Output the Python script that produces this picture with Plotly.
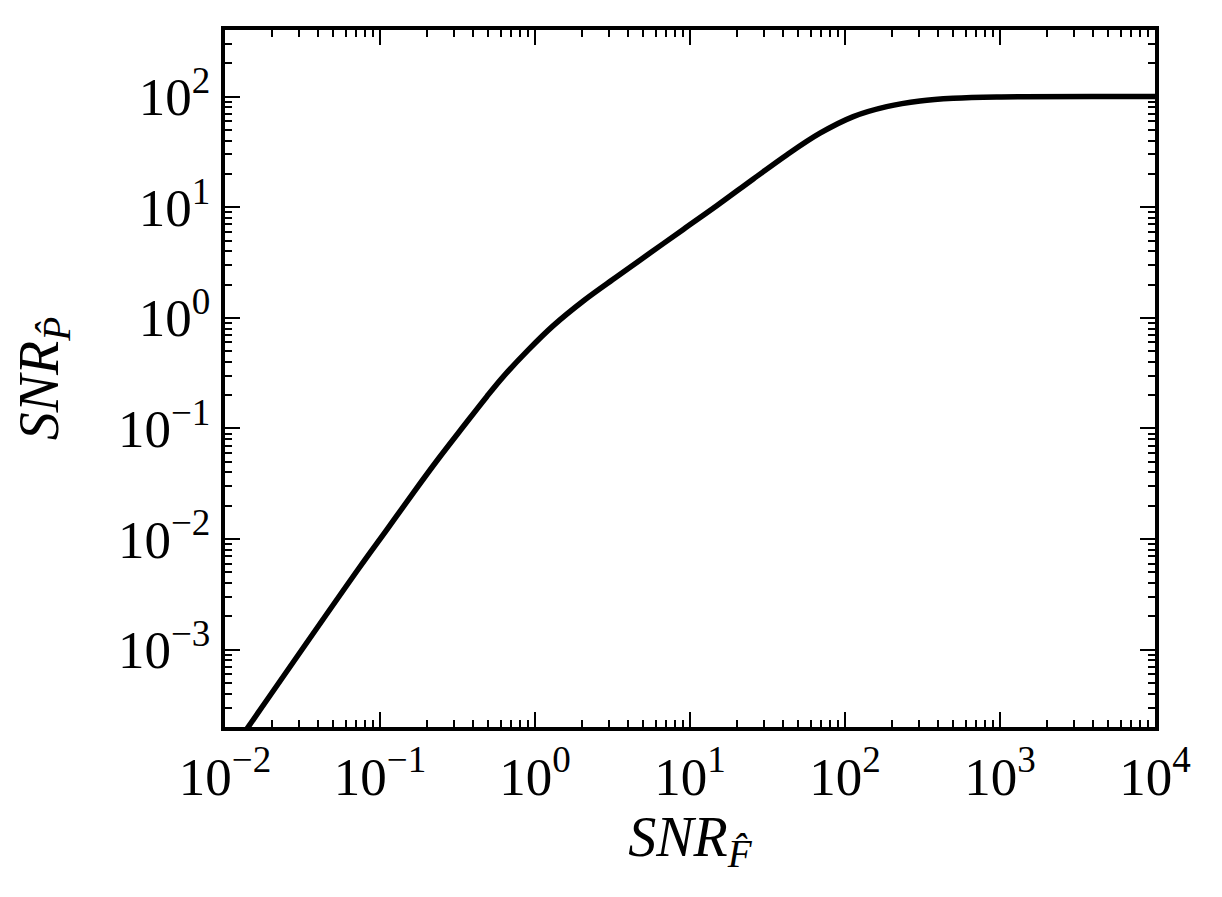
import plotly.graph_objects as go

# Data
snr_f = [0.012, 0.0735, 0.1105, 0.164, 0.2322, 0.3447, 0.4881, 0.6245, 0.9053,
         1.3126, 2.049, 3.366, 5.52, 9.05, 14.87, 25.62, 42.06, 68.98, 113.1,
         185.8, 304.8, 499.5, 952, 10000]
snr_p = [1.44e-4, 0.0055, 0.0121, 0.0262, 0.0508, 0.104, 0.1937, 0.294, 0.513,
         0.85, 1.42, 2.35, 3.85, 6.3, 10.3, 18.0, 29.71, 46.69, 65.96,
         81.2, 91.4, 96.7, 99.3, 100]

x_tickvals = [1e-2, 1e-1, 1e0, 1e1, 1e2, 1e3, 1e4]
x_ticktext = ["10<sup>\u22122</sup>", "10<sup>\u22121</sup>", "10<sup>0</sup>",
              "10<sup>1</sup>", "10<sup>2</sup>", "10<sup>3</sup>", "10<sup>4</sup>"]
y_tickvals = [1e-3, 1e-2, 1e-1, 1e0, 1e1, 1e2]
y_ticktext = ["10<sup>\u22123</sup>", "10<sup>\u22122</sup>", "10<sup>\u22121</sup>",
              "10<sup>0</sup>", "10<sup>1</sup>", "10<sup>2</sup>"]

x_minor = [m * 10.0 ** k for k in range(-2, 4) for m in range(2, 10)]
y_minor = [m * 10.0 ** k for k in range(-4, 3) for m in range(2, 10)]

FONT = "Liberation Serif"

fig = go.Figure()
fig.add_trace(go.Scatter(
    x=snr_f, y=snr_p, mode="lines",
    line=dict(color="black", width=5.5, shape="spline", smoothing=1.0),
    showlegend=False, hoverinfo="skip",
))

axis_common = dict(
    type="log",
    automargin=False,
    showgrid=False,
    zeroline=False,
    showline=True,
    linecolor="black",
    linewidth=4,
    mirror="ticks",
    ticks="inside",
    ticklen=15,
    tickwidth=2,
    tickcolor="black",
    tickmode="array",
    tickfont=dict(family=FONT, size=53, color="black"),
)

fig.update_xaxes(
    **axis_common,
    range=[-2, 4],
    tickvals=x_tickvals,
    ticktext=x_ticktext,
    minor=dict(tickmode="array", tickvals=x_minor, ticks="inside", ticklen=7,
               tickwidth=1.5, tickcolor="black", showgrid=False),
    title=dict(text="<i>SNR</i><sub><i>F\u0302</i></sub>",
               font=dict(family=FONT, size=56, color="black"), standoff=4),
)
fig.update_yaxes(
    **axis_common,
    range=[-3.699, 2.602],
    tickvals=y_tickvals,
    ticktext=y_ticktext,
    minor=dict(tickmode="array", tickvals=y_minor, ticks="inside", ticklen=7,
               tickwidth=1.5, tickcolor="black", showgrid=False),
    title=dict(text="<i>SNR</i><sub><i>P\u0302</i></sub>",
               font=dict(family=FONT, size=56, color="black"), standoff=44),
)

# page body has an 8px default margin; compensate so the plot area sits at
# x 225..1155, y 30..727 in the window
fig.update_layout(
    width=1222, height=897,
    margin=dict(l=217, r=75, t=22, b=178),
    paper_bgcolor="white",
    plot_bgcolor="white",
    font=dict(family=FONT, color="black"),
)

fig.write_html("out.html")
